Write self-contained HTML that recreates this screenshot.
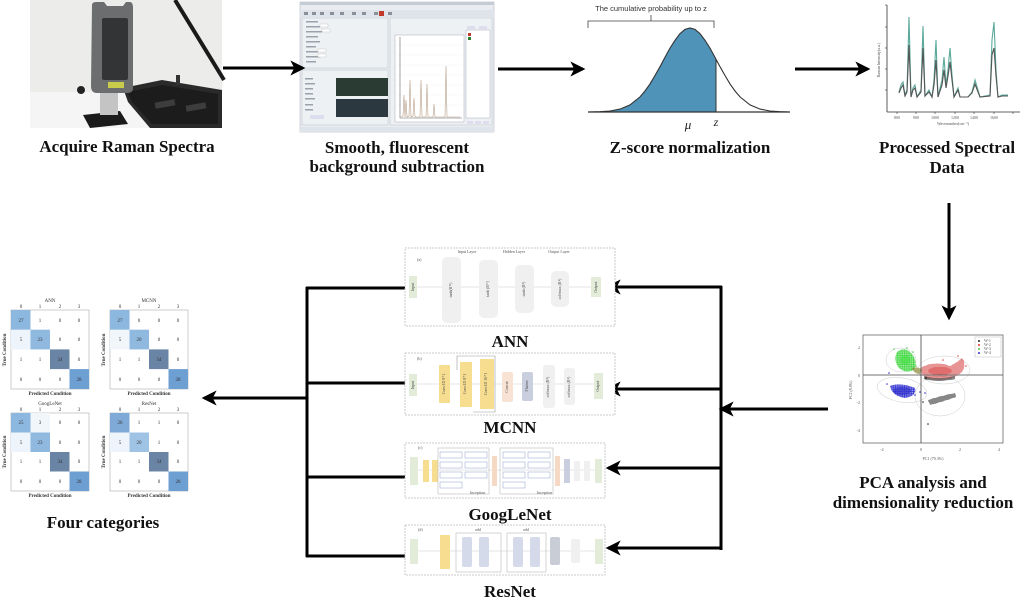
<!DOCTYPE html>
<html><head><meta charset="utf-8"><style>
html,body{margin:0;padding:0;background:#fff;}
svg{display:block;}
.lb{font-family:"Liberation Serif",serif;font-weight:bold;font-size:17px;fill:#111;}
.sm{font-family:"Liberation Serif",serif;font-size:4px;fill:#555;}
.cm{font-family:"Liberation Serif",serif;font-size:5px;fill:#333;}
</style></head><body>
<svg width="1024" height="601" viewBox="0 0 1024 601" xmlns="http://www.w3.org/2000/svg">
<defs>
<marker id="ah" markerWidth="5" markerHeight="5" refX="4.2" refY="2.5" orient="auto" markerUnits="strokeWidth">
<path d="M0,0 L5,2.5 L0,5 L1.3,2.5 Z" fill="#000"/>
</marker>
<pattern id="pg" width="1.8" height="1.8" patternUnits="userSpaceOnUse"><circle cx="0.9" cy="0.9" r="0.9" fill="#3ed63e"/></pattern>
<pattern id="pr" width="2" height="2" patternUnits="userSpaceOnUse"><circle cx="1" cy="1" r="0.85" fill="#d43a3a"/></pattern>
<pattern id="pb" width="1.8" height="1.8" patternUnits="userSpaceOnUse"><circle cx="0.9" cy="0.9" r="0.9" fill="#2a2ad0"/></pattern>
<pattern id="pk" width="2" height="2" patternUnits="userSpaceOnUse"><circle cx="1" cy="1" r="0.85" fill="#222"/></pattern>
</defs>

<!-- ===== Photo ===== -->
<rect x="30" y="0" width="192" height="128" fill="#ececeb"/>
<rect x="30" y="92" width="192" height="36" fill="#f5f5f5"/>
<line x1="175" y1="0" x2="224" y2="80" stroke="#1a1a1a" stroke-width="4"/>
<polygon points="123,88 162,80 222,90 222,128 150,128 128,102" fill="#2a2a2a"/>
<polygon points="128,92 162,85 218,94 218,124 152,124 132,102" fill="#1c1c1c"/>
<rect x="155" y="101" width="20" height="6" fill="#3d3d3d" transform="rotate(-10 165 104)"/>
<rect x="186" y="104" width="20" height="6" fill="#3d3d3d" transform="rotate(-10 196 107)"/>
<polygon points="83,115 120,111 128,124 90,128" fill="#1b1b1b"/>
<path d="M92,5 Q92,2 96,2 L104,2 L107,6 L123,6 L126,2 L130,2 Q133,2 133,8 L133,88 Q133,93 127,93 L97,93 Q91,93 91,86 Z" fill="#6b6d6f"/>
<rect x="102" y="18" width="26" height="62" rx="2" fill="#323436"/>
<rect x="108" y="82" width="16" height="6" fill="#c9cc4a"/>
<rect x="100" y="93" width="18" height="22" fill="#c4c4c4"/>
<circle cx="81" cy="90" r="4" fill="#222"/>
<rect x="176" y="75" width="4" height="10" fill="#333"/>

<!-- ===== Software screenshot ===== -->
<rect x="300" y="2" width="194" height="130" fill="#e9edf1" stroke="#aab" stroke-width="0.5"/>
<rect x="300" y="2" width="194" height="3" fill="#c4cdd6"/>
<rect x="300" y="10" width="194" height="7" fill="#dfe4ea"/>
<g fill="#8a9099"><rect x="304" y="12" width="4" height="3"/><rect x="312" y="12" width="4" height="3"/><rect x="320" y="12" width="4" height="3"/><rect x="330" y="12" width="4" height="3"/><rect x="340" y="12" width="4" height="3"/><rect x="352" y="12" width="4" height="3"/><rect x="362" y="12" width="4" height="3"/><rect x="374" y="12" width="4" height="3"/><rect x="388" y="12" width="4" height="3"/></g>
<rect x="379" y="11" width="5" height="5" fill="#c0392b"/>
<rect x="302" y="18" width="86" height="50" fill="#eef1f4" stroke="#b8c0c8" stroke-width="0.5"/>
<g fill="#9aa2ab"><rect x="306" y="21" width="12" height="1.5"/><rect x="306" y="26" width="14" height="1.5"/><rect x="306" y="31" width="16" height="1.5"/><rect x="306" y="36" width="12" height="1.5"/><rect x="306" y="41" width="14" height="1.5"/><rect x="306" y="46" width="10" height="1.5"/><rect x="306" y="51" width="12" height="1.5"/><rect x="306" y="56" width="14" height="1.5"/><rect x="306" y="61" width="10" height="1.5"/></g>
<g fill="#fff" stroke="#bbb" stroke-width="0.4"><rect x="320" y="24" width="8" height="3"/><rect x="322" y="29" width="8" height="3"/><rect x="318" y="49" width="8" height="3"/><rect x="318" y="54" width="8" height="3"/></g>
<rect x="302" y="70" width="86" height="55" fill="#eef1f4" stroke="#b8c0c8" stroke-width="0.5"/>
<rect x="336" y="78" width="52" height="18" fill="#2a3b33"/>
<rect x="336" y="99" width="52" height="18" fill="#2c3840"/>
<g fill="#9aa2ab"><rect x="305" y="78" width="8" height="1.5"/><rect x="305" y="83" width="10" height="1.5"/><rect x="305" y="88" width="8" height="1.5"/><rect x="305" y="93" width="8" height="1.5"/><rect x="305" y="98" width="10" height="1.5"/><rect x="305" y="104" width="8" height="1.5"/><rect x="305" y="109" width="8" height="1.5"/><rect x="310" y="115" width="14" height="4" fill="#dde"/></g>
<rect x="390" y="18" width="102" height="107" fill="#eef1f4" stroke="#b8c0c8" stroke-width="0.5"/>
<rect x="395" y="35" width="69" height="87" fill="#fff" stroke="#aab" stroke-width="0.5"/>
<g stroke="#eee" stroke-width="0.4"><line x1="395" y1="45" x2="464" y2="45"/><line x1="395" y1="55" x2="464" y2="55"/><line x1="395" y1="65" x2="464" y2="65"/><line x1="395" y1="75" x2="464" y2="75"/><line x1="395" y1="85" x2="464" y2="85"/><line x1="395" y1="95" x2="464" y2="95"/><line x1="395" y1="105" x2="464" y2="105"/></g>
<line x1="400" y1="37" x2="400" y2="118" stroke="#666" stroke-width="0.6"/>
<line x1="400" y1="118" x2="462" y2="118" stroke="#666" stroke-width="0.6"/>
<polyline points="401,117 403,116 404,95 405,117 406,100 407,117 409,116 410,80 411,117 413,116 414,98 415,117 420,117 421,80 422,117 426,117 427,84 428,117 433,117 434,104 435,117 445,117 446,66 447,117 460,117" fill="none" stroke="#b9a08a" stroke-width="0.6"/>
<rect x="466" y="30" width="24" height="88" fill="#fff" stroke="#aab" stroke-width="0.5"/>
<rect x="468" y="33" width="3" height="3" fill="#c0392b"/><rect x="468" y="37" width="3" height="3" fill="#2e7d32"/>
<rect x="467" y="26" width="8" height="3" fill="#dde"/><rect x="479" y="26" width="8" height="3" fill="#dde"/>
<rect x="467" y="121" width="6" height="3" fill="#dde"/><rect x="475" y="121" width="6" height="3" fill="#dde"/><rect x="483" y="121" width="6" height="3" fill="#dde"/>
<rect x="300" y="127" width="194" height="5" fill="#dfe4ea"/>

<!-- ===== Gaussian ===== -->
<text x="651" y="11" text-anchor="middle" font-family="Liberation Sans,sans-serif" font-size="7.5" fill="#333">The cumulative probability up to z</text>
<path d="M588,28 L588,21 L714,21 L714,28 M651,21 L651,15" fill="none" stroke="#444" stroke-width="0.8"/>
<path d="M588,112 L600,111.7 L610,111 L620,109.1 L630,104.9 L640,96.9 L645,91 L650,83.9 L655,75.5 L660,66.7 L665,57.2 L670,48.1 L675,40.3 L680,33.6 L685,29.4 L690,28 L695,29.4 L700,33.6 L705,40.3 L710,48.1 L716,59.2 L716,112 Z" fill="#4f93b8"/>
<path d="M588,112 L600,111.7 L610,111 L620,109.1 L630,104.9 L640,96.9 L645,91 L650,83.9 L655,75.5 L660,66.7 L665,57.2 L670,48.1 L675,40.3 L680,33.6 L685,29.4 L690,28 L695,29.4 L700,33.6 L705,40.3 L710,48.1 L716,59.2 L720,66.7 L725,75.5 L730,83.9 L735,91 L740,96.9 L750,104.9 L760,109.1 L770,111 L780,111.7 L790,112" fill="none" stroke="#333" stroke-width="1.1"/>
<line x1="588" y1="112" x2="790" y2="112" stroke="#333" stroke-width="1.3"/>
<line x1="716" y1="59" x2="716" y2="112" stroke="#333" stroke-width="1"/>
<text x="688" y="129" text-anchor="middle" font-family="Liberation Serif,serif" font-style="italic" font-size="13" fill="#222">μ</text>
<text x="716" y="126" text-anchor="middle" font-family="Liberation Serif,serif" font-style="italic" font-size="12" fill="#222">z</text>

<!-- ===== Spectrum ===== -->
<line x1="887" y1="5" x2="887" y2="112" stroke="#333" stroke-width="0.8"/>
<line x1="887" y1="112" x2="1020" y2="112" stroke="#333" stroke-width="0.8"/>
<g stroke="#333" stroke-width="0.6"><line x1="885" y1="5" x2="887" y2="5"/><line x1="885" y1="27" x2="887" y2="27"/><line x1="885" y1="48" x2="887" y2="48"/><line x1="885" y1="69" x2="887" y2="69"/><line x1="885" y1="90" x2="887" y2="90"/><line x1="897" y1="112" x2="897" y2="114"/><line x1="916" y1="112" x2="916" y2="114"/><line x1="935" y1="112" x2="935" y2="114"/><line x1="955" y1="112" x2="955" y2="114"/><line x1="974" y1="112" x2="974" y2="114"/><line x1="994" y1="112" x2="994" y2="114"/><line x1="1013" y1="112" x2="1013" y2="114"/></g>
<text x="880" y="60" class="sm" transform="rotate(-90 880 60)" text-anchor="middle">Raman Intensity(a.u.)</text>
<text x="953" y="125" class="sm" text-anchor="middle">Wavenumber(cm⁻¹)</text>
<g class="sm" font-size="3.5"><text x="897" y="119" text-anchor="middle">800</text><text x="916" y="119" text-anchor="middle">900</text><text x="935" y="119" text-anchor="middle">1000</text><text x="955" y="119" text-anchor="middle">1200</text><text x="974" y="119" text-anchor="middle">1400</text><text x="994" y="119" text-anchor="middle">1600</text></g>
<polyline points="899,92 901,85 903,82 905,95 907,90 909,17 911,97 913,88 915,85 917,97 921,90 923,26 925,96 929,90 932,97 934,80 936,40 938,97 942,80 944,57 946,85 948,70 950,48 952,75 954,97 958,88 960,97 968,97 972,92 975,80 978,90 980,97 990,95 992,40 994,22 996,70 998,97 1002,95 1008,95" fill="none" stroke="#5aa99a" stroke-width="1.1"/>
<polyline points="899,93 901,88 903,85 905,96 907,92 909,45 911,97 913,90 915,88 917,97 921,92 923,48 925,96 929,92 932,97 934,85 936,60 938,97 942,85 944,70 946,88 948,76 950,62 952,80 954,97 958,90 960,97 968,97 972,93 975,84 978,92 980,97 990,96 992,55 994,48 996,76 998,97 1002,96 1008,96" fill="none" stroke="#555" stroke-width="1.1"/>

<!-- ===== Labels top ===== -->
<text x="127" y="152" class="lb" text-anchor="middle">Acquire Raman Spectra</text>
<text x="397" y="153" class="lb" text-anchor="middle">Smooth, fluorescent</text>
<text x="397" y="172" class="lb" text-anchor="middle">background subtraction</text>
<text x="690" y="153" class="lb" text-anchor="middle">Z-score normalization</text>
<text x="947" y="153" class="lb" text-anchor="middle">Processed Spectral</text>
<text x="947" y="173" class="lb" text-anchor="middle">Data</text>

<!-- ===== Arrows ===== -->
<g stroke="#000" stroke-width="3" fill="none">
<line x1="223" y1="68" x2="303" y2="68" marker-end="url(#ah)"/>
<line x1="498" y1="69" x2="583" y2="69" marker-end="url(#ah)"/>
<line x1="795" y1="69" x2="868" y2="69" marker-end="url(#ah)"/>
<line x1="949" y1="203" x2="949" y2="318" marker-end="url(#ah)"/>
<line x1="828" y1="409" x2="721" y2="409" marker-end="url(#ah)"/>
<line x1="721" y1="286" x2="721" y2="550"/>
<line x1="722" y1="287" x2="608" y2="287" marker-end="url(#ah)"/>
<line x1="722" y1="389" x2="608" y2="389" marker-end="url(#ah)"/>
<line x1="722" y1="468" x2="608" y2="468" marker-end="url(#ah)"/>
<line x1="722" y1="548" x2="608" y2="548" marker-end="url(#ah)"/>
<line x1="307" y1="287" x2="307" y2="557"/>
<line x1="306" y1="288" x2="405" y2="288"/>
<line x1="306" y1="383" x2="405" y2="383"/>
<line x1="306" y1="477" x2="405" y2="477"/>
<line x1="306" y1="556" x2="405" y2="556"/>
<line x1="308" y1="398" x2="204" y2="398" marker-end="url(#ah)"/>
</g>

<!-- ===== ANN panel ===== -->
<rect x="405" y="248" width="210" height="78" fill="#fff" stroke="#bbb" stroke-width="0.8" stroke-dasharray="2,1"/>
<line x1="416" y1="287" x2="596" y2="287" stroke="#ccc" stroke-width="0.6"/>
<text x="417" y="261" class="sm" font-size="5">(a)</text>
<text x="467" y="253" class="sm" text-anchor="middle">Input Layer</text>
<text x="514" y="253" class="sm" text-anchor="middle">Hidden Layer</text>
<text x="559" y="253" class="sm" text-anchor="middle">Output Layer</text>
<rect x="409" y="276" width="8" height="22" fill="#e3ecd9"/>
<rect x="442" y="257" width="19" height="66" rx="5" fill="#f0f0f0"/>
<rect x="479" y="260" width="19" height="58" rx="5" fill="#f0f0f0"/>
<rect x="515" y="265" width="19" height="48" rx="5" fill="#f0f0f0"/>
<rect x="551" y="271" width="18" height="36" rx="5" fill="#f0f0f0"/>
<rect x="591" y="277" width="10" height="20" fill="#e3ecd9"/>
<g class="sm" font-size="4"><text x="414" y="287" transform="rotate(-90 414 287)" text-anchor="middle">Input</text><text x="452" y="290" transform="rotate(-90 452 290)" text-anchor="middle">tanh(R¹⁹)</text><text x="489" y="289" transform="rotate(-90 489 289)" text-anchor="middle">tanh (R¹⁰)</text><text x="525" y="289" transform="rotate(-90 525 289)" text-anchor="middle">tanh (R⁸)</text><text x="561" y="289" transform="rotate(-90 561 289)" text-anchor="middle">softmax (R⁴)</text><text x="597" y="287" transform="rotate(-90 597 287)" text-anchor="middle">Output</text></g>
<text x="510" y="347" class="lb" text-anchor="middle">ANN</text>

<!-- ===== MCNN panel ===== -->
<rect x="405" y="353" width="210" height="62" fill="#fff" stroke="#bbb" stroke-width="0.8" stroke-dasharray="2,1"/>
<line x1="416" y1="384" x2="598" y2="384" stroke="#ccc" stroke-width="0.6"/>
<path d="M457,370 L457,356 L495,356 L495,412 L473,412" fill="none" stroke="#999" stroke-width="0.6"/>
<text x="417" y="360" class="sm" font-size="5">(b)</text>
<rect x="409" y="374" width="8" height="22" fill="#e3ecd9"/>
<rect x="439" y="365" width="11" height="38" fill="#f6dd8f"/>
<rect x="460" y="362" width="12" height="45" fill="#f6dd8f"/>
<rect x="480" y="359" width="14" height="50" fill="#f6dd8f"/>
<rect x="502" y="372" width="11" height="30" rx="2" fill="#f8e2d4"/>
<rect x="522" y="372" width="11" height="29" rx="2" fill="#c9cfdf"/>
<rect x="543" y="365" width="12" height="43" rx="3" fill="#f0f0f0"/>
<rect x="564" y="368" width="11" height="37" rx="3" fill="#f0f0f0"/>
<rect x="594" y="373" width="9" height="26" fill="#e3ecd9"/>
<g class="sm" font-size="4"><text x="414" y="385" transform="rotate(-90 414 385)" text-anchor="middle">Input</text><text x="445" y="384" transform="rotate(-90 445 384)" text-anchor="middle">Conv1D 8*1</text><text x="466" y="384" transform="rotate(-90 466 384)" text-anchor="middle">Conv1D 8*1</text><text x="487" y="384" transform="rotate(-90 487 384)" text-anchor="middle">Conv1D 16*1</text><text x="508" y="387" transform="rotate(-90 508 387)" text-anchor="middle">Concat</text><text x="528" y="386" transform="rotate(-90 528 386)" text-anchor="middle">Flatten</text><text x="549" y="387" transform="rotate(-90 549 387)" text-anchor="middle">softmax (R⁸)</text><text x="570" y="387" transform="rotate(-90 570 387)" text-anchor="middle">softmax (R⁴)</text><text x="599" y="386" transform="rotate(-90 599 386)" text-anchor="middle">Output</text></g>
<text x="510" y="433" class="lb" text-anchor="middle">MCNN</text>

<!-- ===== GoogLeNet panel ===== -->
<rect x="405" y="443" width="200" height="55" fill="#fff" stroke="#bbb" stroke-width="0.8" stroke-dasharray="2,1"/>
<line x1="416" y1="470" x2="600" y2="470" stroke="#ccc" stroke-width="0.6"/>
<text x="418" y="449" class="sm" font-size="5">(c)</text>
<rect x="410" y="457" width="8" height="28" fill="#e3ecd9"/>
<rect x="423" y="460" width="6" height="22" fill="#f6dd8f"/>
<rect x="432" y="460" width="6" height="22" fill="#f6dd8f"/>
<rect x="438" y="448" width="51" height="46" fill="none" stroke="#bbb" stroke-width="0.6"/>
<g fill="#fff" stroke="#8fa0c8" stroke-width="0.5">
<rect x="440" y="452" width="22" height="6"/><rect x="465" y="452" width="22" height="6"/>
<rect x="440" y="462" width="22" height="6"/><rect x="465" y="462" width="22" height="6"/>
<rect x="440" y="472" width="22" height="6"/><rect x="465" y="472" width="22" height="6"/>
<rect x="440" y="482" width="22" height="6"/>
<rect x="503" y="452" width="22" height="6"/><rect x="528" y="452" width="22" height="6"/>
<rect x="503" y="462" width="22" height="6"/><rect x="528" y="462" width="22" height="6"/>
<rect x="503" y="472" width="22" height="6"/><rect x="528" y="472" width="22" height="6"/>
<rect x="503" y="482" width="22" height="6"/>
</g>
<rect x="492" y="456" width="5" height="30" fill="#f5d9c4"/>
<rect x="500" y="448" width="53" height="46" fill="none" stroke="#bbb" stroke-width="0.6"/>
<rect x="555" y="456" width="5" height="30" fill="#f5d9c4"/>
<rect x="564" y="459" width="6" height="24" fill="#c9cfdf"/>
<rect x="574" y="461" width="6" height="20" fill="#f0f0f0"/>
<rect x="584" y="461" width="6" height="20" fill="#f0f0f0"/>
<rect x="595" y="459" width="7" height="24" fill="#e3ecd9"/>
<text x="470" y="494" class="sm" font-size="3">Inception</text>
<text x="537" y="494" class="sm" font-size="3">Inception</text>
<text x="510" y="520" class="lb" text-anchor="middle">GoogLeNet</text>

<!-- ===== ResNet panel ===== -->
<rect x="405" y="525" width="200" height="50" fill="#fff" stroke="#bbb" stroke-width="0.8" stroke-dasharray="2,1"/>
<line x1="416" y1="551" x2="600" y2="551" stroke="#ccc" stroke-width="0.6"/>
<text x="418" y="531" class="sm" font-size="5">(d)</text>
<rect x="410" y="539" width="8" height="25" fill="#e3ecd9"/>
<rect x="440" y="535" width="10" height="34" fill="#f6dd8f"/>
<rect x="456" y="533" width="45" height="39" fill="none" stroke="#bbb" stroke-width="0.6"/>
<rect x="462" y="537" width="10" height="30" rx="2" fill="#d5daea"/>
<rect x="479" y="537" width="10" height="30" rx="2" fill="#d5daea"/>
<rect x="507" y="533" width="39" height="39" fill="none" stroke="#bbb" stroke-width="0.6"/>
<rect x="513" y="537" width="10" height="30" rx="2" fill="#d5daea"/>
<rect x="530" y="537" width="10" height="30" rx="2" fill="#d5daea"/>
<rect x="550" y="537" width="10" height="28" rx="2" fill="#c9cdd6"/>
<rect x="571" y="539" width="9" height="24" rx="2" fill="#f0f0f0"/>
<rect x="595" y="539" width="8" height="25" fill="#e3ecd9"/>
<text x="478" y="531" class="sm" font-size="3" text-anchor="middle">add</text>
<text x="526" y="531" class="sm" font-size="3" text-anchor="middle">add</text>
<text x="510" y="597" class="lb" text-anchor="middle">ResNet</text>

<!-- ===== PCA ===== -->
<rect x="863" y="335" width="140" height="108" fill="#fff" stroke="#555" stroke-width="0.7"/>
<ellipse cx="901" cy="360" rx="15" ry="12" fill="none" stroke="#ccc" stroke-width="0.5"/>
<ellipse cx="944" cy="370" rx="26" ry="14" fill="none" stroke="#ccc" stroke-width="0.5"/>
<ellipse cx="902" cy="390" rx="25" ry="12" fill="none" stroke="#ccc" stroke-width="0.5" transform="rotate(10 902 390)"/>
<ellipse cx="940" cy="396" rx="25" ry="20" fill="none" stroke="#ccc" stroke-width="0.5"/>
<path d="M897,352 Q905,346 912,354 Q918,362 914,370 Q906,374 899,368 Q893,360 897,352 Z" fill="url(#pg)"/>
<circle cx="905" cy="360" r="5" fill="#4ee04e" opacity="0.75"/>
<path d="M920,368 Q935,360 950,366 Q958,362 962,358 Q967,364 962,372 Q950,382 935,380 Q922,380 920,368 Z" fill="url(#pr)"/>
<ellipse cx="940" cy="371" rx="12" ry="4" fill="#d84848" opacity="0.5"/>
<path d="M890,386 Q900,382 915,388 Q917,396 905,398 Q892,396 890,386 Z" fill="url(#pb)"/>
<ellipse cx="902" cy="391" rx="9" ry="4" fill="#3535cc" opacity="0.7"/>
<path d="M928,400 Q940,396 955,393 L956,397 Q942,402 930,405 Z" fill="url(#pk)"/>
<path d="M924,376 Q938,380 955,376 L955,379 Q938,383 924,379 Z" fill="url(#pk)"/>
<path d="M912,368 Q918,366 922,370 L920,374 Q914,374 912,368 Z" fill="#8a8a3a" opacity="0.7"/>
<g fill="#5c5"><circle cx="894" cy="349" r="0.8"/><circle cx="913" cy="352" r="0.8"/><circle cx="916" cy="366" r="0.8"/><circle cx="907" cy="348" r="0.8"/></g>
<g fill="#d44"><circle cx="958" cy="356" r="0.8"/><circle cx="966" cy="366" r="0.8"/><circle cx="943" cy="360" r="0.8"/></g>
<g fill="#33c"><circle cx="887" cy="384" r="0.8"/><circle cx="915" cy="395" r="0.8"/><circle cx="920" cy="392" r="0.8"/><circle cx="889" cy="373" r="0.8"/><circle cx="925" cy="393" r="0.8"/></g>
<g fill="#222"><circle cx="926" cy="378" r="0.8"/><circle cx="928" cy="424" r="0.8"/><circle cx="923" cy="402" r="0.8"/></g>
<line x1="863" y1="375" x2="1003" y2="375" stroke="#444" stroke-width="0.8"/>
<line x1="921" y1="335" x2="921" y2="443" stroke="#444" stroke-width="0.8"/>
<rect x="975" y="337" width="26" height="20" fill="#fff" stroke="#aaa" stroke-width="0.4"/>
<circle cx="979" cy="341" r="1" fill="#222"/><circle cx="979" cy="345" r="1" fill="#d33"/><circle cx="979" cy="349" r="1" fill="#4c4"/><circle cx="979" cy="353" r="1" fill="#33c"/>
<g class="sm" font-size="3"><text x="984" y="342">W-1</text><text x="984" y="346">W-2</text><text x="984" y="350">W-3</text><text x="984" y="354">W-4</text></g>
<g class="sm" font-size="4"><text x="860" y="349" text-anchor="end">2</text><text x="860" y="377" text-anchor="end">0</text><text x="860" y="404" text-anchor="end">-2</text><text x="860" y="432" text-anchor="end">-4</text><text x="882" y="451" text-anchor="middle">-2</text><text x="921" y="451" text-anchor="middle">0</text><text x="960" y="451" text-anchor="middle">2</text><text x="999" y="451" text-anchor="middle">4</text><text x="933" y="460" text-anchor="middle">PC1 (70.3%)</text><text x="852" y="390" transform="rotate(-90 852 390)" text-anchor="middle">PC2 (8.8%)</text></g>
<text x="923" y="488" class="lb" text-anchor="middle">PCA analysis and</text>
<text x="923" y="508" class="lb" text-anchor="middle">dimensionality reduction</text>

<!-- ===== Confusion matrices ===== -->
<g>
<rect x="11" y="310" width="78" height="79" fill="#fff" stroke="#999" stroke-width="0.5"/>
<rect x="11" y="330" width="19.5" height="19.5" fill="#eef4fb"/>
<rect x="11" y="310" width="19.5" height="19.7" fill="#8cb7df"/>
<rect x="30.5" y="329.7" width="19.5" height="19.7" fill="#8fb9df"/>
<rect x="50" y="349.4" width="19.5" height="19.7" fill="#6a84a6"/>
<rect x="69.5" y="369.1" width="19.5" height="19.9" fill="#6e9fd2"/>
<g class="cm" text-anchor="middle"><text x="21" y="322">27</text><text x="40" y="322">1</text><text x="60" y="322">0</text><text x="79" y="322">0</text><text x="21" y="341">5</text><text x="40" y="341">23</text><text x="60" y="341">0</text><text x="79" y="341">0</text><text x="21" y="361">1</text><text x="40" y="361">1</text><text x="60" y="361">34</text><text x="79" y="361">0</text><text x="21" y="381">0</text><text x="40" y="381">0</text><text x="60" y="381">0</text><text x="79" y="381">28</text>
<text x="21" y="308">0</text><text x="40" y="308">1</text><text x="60" y="308">2</text><text x="79" y="308">3</text><text x="50" y="302">ANN</text><text x="50" y="395" font-weight="bold">Predicted Condition</text></g>
<text x="6" y="350" class="cm" font-weight="bold" transform="rotate(-90 6 350)" text-anchor="middle">True Condition</text>
</g>
<g>
<rect x="110" y="310" width="78" height="79" fill="#fff" stroke="#999" stroke-width="0.5"/>
<rect x="110" y="330" width="19.5" height="19.5" fill="#f1f6fb"/>
<rect x="110" y="310" width="19.5" height="19.7" fill="#8cb7df"/>
<rect x="129.5" y="329.7" width="19.5" height="19.7" fill="#8fb9df"/>
<rect x="149" y="349.4" width="19.5" height="19.7" fill="#6a84a6"/>
<rect x="168.5" y="369.1" width="19.5" height="19.9" fill="#6e9fd2"/>
<g class="cm" text-anchor="middle"><text x="120" y="322">27</text><text x="139" y="322">0</text><text x="159" y="322">0</text><text x="178" y="322">0</text><text x="120" y="341">5</text><text x="139" y="341">20</text><text x="159" y="341">0</text><text x="178" y="341">0</text><text x="120" y="361">1</text><text x="139" y="361">1</text><text x="159" y="361">34</text><text x="178" y="361">0</text><text x="120" y="381">0</text><text x="139" y="381">0</text><text x="159" y="381">0</text><text x="178" y="381">28</text>
<text x="120" y="308">0</text><text x="139" y="308">1</text><text x="159" y="308">2</text><text x="178" y="308">3</text><text x="149" y="302">MCNN</text><text x="149" y="395" font-weight="bold">Predicted Condition</text></g>
<text x="105" y="350" class="cm" font-weight="bold" transform="rotate(-90 105 350)" text-anchor="middle">True Condition</text>
</g>
<g>
<rect x="11" y="413" width="78" height="78" fill="#fff" stroke="#999" stroke-width="0.5"/>
<rect x="11" y="432.5" width="19.5" height="19.5" fill="#eef4fb"/>
<rect x="30.5" y="413" width="19.5" height="19.5" fill="#f1f6fb"/>
<rect x="11" y="413" width="19.5" height="19.5" fill="#8cb7df"/>
<rect x="30.5" y="432.5" width="19.5" height="19.5" fill="#8fb9df"/>
<rect x="50" y="452" width="19.5" height="19.5" fill="#6a84a6"/>
<rect x="69.5" y="471.5" width="19.5" height="19.5" fill="#6e9fd2"/>
<g class="cm" text-anchor="middle"><text x="21" y="424">25</text><text x="40" y="424">3</text><text x="60" y="424">0</text><text x="79" y="424">0</text><text x="21" y="444">5</text><text x="40" y="444">23</text><text x="60" y="444">0</text><text x="79" y="444">0</text><text x="21" y="463">1</text><text x="40" y="463">1</text><text x="60" y="463">34</text><text x="79" y="463">0</text><text x="21" y="483">0</text><text x="40" y="483">0</text><text x="60" y="483">0</text><text x="79" y="483">28</text>
<text x="21" y="411">0</text><text x="40" y="411">1</text><text x="60" y="411">2</text><text x="79" y="411">3</text><text x="50" y="405">GoogLeNet</text><text x="50" y="497" font-weight="bold">Predicted Condition</text></g>
<text x="6" y="452" class="cm" font-weight="bold" transform="rotate(-90 6 452)" text-anchor="middle">True Condition</text>
</g>
<g>
<rect x="110" y="413" width="78" height="78" fill="#fff" stroke="#999" stroke-width="0.5"/>
<rect x="110" y="432.5" width="19.5" height="19.5" fill="#eef4fb"/>
<rect x="110" y="413" width="19.5" height="19.5" fill="#7fa9d6"/>
<rect x="129.5" y="432.5" width="19.5" height="19.5" fill="#9fc3e4"/>
<rect x="149" y="452" width="19.5" height="19.5" fill="#6a84a6"/>
<rect x="168.5" y="471.5" width="19.5" height="19.5" fill="#6e9fd2"/>
<g class="cm" text-anchor="middle"><text x="120" y="424">26</text><text x="139" y="424">1</text><text x="159" y="424">1</text><text x="178" y="424">0</text><text x="120" y="444">5</text><text x="139" y="444">20</text><text x="159" y="444">1</text><text x="178" y="444">0</text><text x="120" y="463">1</text><text x="139" y="463">1</text><text x="159" y="463">34</text><text x="178" y="463">0</text><text x="120" y="483">0</text><text x="139" y="483">0</text><text x="159" y="483">0</text><text x="178" y="483">28</text>
<text x="120" y="411">0</text><text x="139" y="411">1</text><text x="159" y="411">2</text><text x="178" y="411">3</text><text x="149" y="405">ResNet</text><text x="149" y="497" font-weight="bold">Predicted Condition</text></g>
<text x="105" y="452" class="cm" font-weight="bold" transform="rotate(-90 105 452)" text-anchor="middle">True Condition</text>
</g>
<text x="103" y="528" class="lb" text-anchor="middle">Four categories</text>
</svg>
</body></html>
